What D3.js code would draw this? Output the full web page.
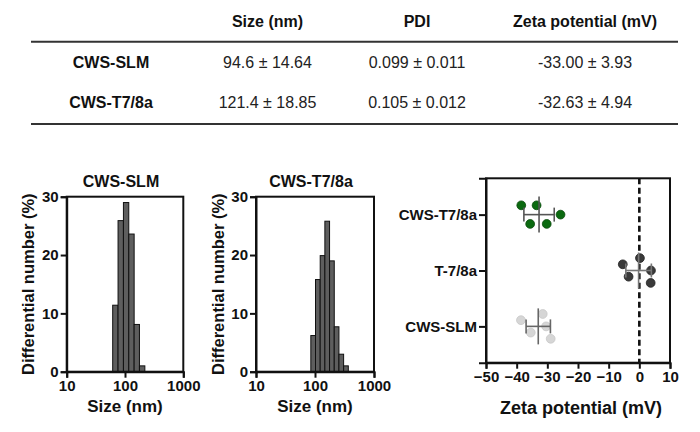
<!DOCTYPE html>
<html><head><meta charset="utf-8">
<script src="https://cdn.jsdelivr.net/npm/d3@7"></script>
<style>
html,body{margin:0;padding:0;background:#fff;}
svg{display:block;font-family:"Liberation Sans",Arial,sans-serif;}
</style></head>
<body><svg id="c" width="700" height="432"></svg>
<script>
// ---------- DATA ----------
const tableHeaders = ["Size (nm)", "PDI", "Zeta potential (mV)"];
const tableRows = ["CWS-SLM", "CWS-T7/8a"];
const tableSize = ["94.6 ± 14.64", "121.4 ± 18.85"];
const tablePDI = ["0.099 ± 0.011", "0.105 ± 0.012"];
const tableZeta = ["-33.00 ± 3.93", "-32.63 ± 4.94"];

// histogram bin edges (nm) and differential number (%)
const slmBinEdges = [61.5, 76, 94, 116, 143.5, 177, 219];
const slmValues = [11.4, 25.9, 29.0, 23.6, 8.1, 1.0];
const t78BinEdges = [85, 102, 122.5, 147, 176.5, 212, 254.5, 305.5, 367];
const t78Values = [6.2, 15.8, 19.9, 25.8, 19.0, 7.7, 3.0, 1.0];
const histTicksX = [10, 100, 1000];
const histTicksY = [0, 10, 20, 30];

// zeta potential replicates (mV)
const zetaCategories = ["CWS-T7/8a", "T-7/8a", "CWS-SLM"];
const zetaT78 = [-38.5, -33.5, -25.7, -35.6, -30.2];
const zetaT = [-5.4, 0.2, 3.8, -3.5, 3.7];
const zetaSLM = [-38.6, -31.5, -30.4, -35.4, -28.9];
// vertical spread lane of each replicate (in dot lanes)
const laneT78 = [-1.5, -1.5, 0, 1.5, 1.5];
const laneT = [-1, -2, 0, 1, 2];
const laneSLM = [-1, -2, 0, 1, 2];
const zetaTicks = [-50, -40, -30, -20, -10, 0, 10];

// ---------- DRAW ----------
const svg = d3.select("#c");
const F = '"Liberation Sans",Arial,sans-serif';

// Table
const colX = [267.5, 417, 585];
const rowY = [62, 102];
const tbl = svg.append("g");
tbl.selectAll("text.h").data(tableHeaders).join("text")
  .attr("x", (d,i)=>colX[i]).attr("y", 21.5).attr("text-anchor","middle")
  .attr("dominant-baseline","central").attr("font-weight","bold").attr("font-size",16)
  .attr("fill","#111").text(d=>d);
tbl.append("line").attr("x1",31).attr("x2",678).attr("y1",41.7).attr("y2",41.7).attr("stroke","#333").attr("stroke-width",2);
tbl.append("line").attr("x1",31).attr("x2",678).attr("y1",124).attr("y2",124).attr("stroke","#333").attr("stroke-width",2);
tableRows.forEach((r,i)=>{
  const cells = [tableSize[i], tablePDI[i], tableZeta[i]];
  tbl.append("text").attr("x",111).attr("y",rowY[i]).attr("text-anchor","middle")
    .attr("dominant-baseline","central").attr("font-weight","bold").attr("font-size",16).attr("fill","#111").text(r);
  cells.forEach((c,j)=>{
    tbl.append("text").attr("x",colX[j]).attr("y",rowY[i]).attr("text-anchor","middle")
      .attr("dominant-baseline","central").attr("font-size",16).attr("fill","#222").text(c);
  });
});

// Histograms
function histogram(left, right, title, edges, values){
  const top = 196.7, bottom = 371.7;
  const x = d3.scaleLog().domain([10,1000]).range([left,right]);
  const y = d3.scaleLinear().domain([0,30]).range([bottom,top]);
  const g = svg.append("g");
  const bins = values.map((v,i)=>({x0:edges[i], x1:edges[i+1], v}));
  g.selectAll("rect").data(bins).join("rect")
    .attr("x", d=>x(d.x0)).attr("width", d=>x(d.x1)-x(d.x0))
    .attr("y", d=>y(d.v)).attr("height", d=>y(0)-y(d.v))
    .attr("fill","#5e5e5e").attr("stroke","#111").attr("stroke-width",1);
  // frame
  g.append("rect").attr("x",left).attr("y",top).attr("width",right-left).attr("height",bottom-top)
    .attr("fill","none").attr("stroke","#111").attr("stroke-width",2);
  const ax = g.append("g").attr("transform",`translate(0,${bottom})`)
    .call(d3.axisBottom(x).tickValues(histTicksX).tickFormat(d3.format("d")).tickSize(6).tickPadding(3));
  const ay = g.append("g").attr("transform",`translate(${left},0)`)
    .call(d3.axisLeft(y).tickValues(histTicksY).tickSize(6).tickPadding(2));
  [ax,ay].forEach(a=>{
    a.select(".domain").attr("stroke","#111").attr("stroke-width",2);
    a.selectAll(".tick line").attr("stroke","#111").attr("stroke-width",2);
    a.selectAll(".tick text").attr("font-family",F).attr("font-weight","bold").attr("font-size",15).attr("fill","#111");
  });
  g.append("text").attr("x",(left+right)/2 - 4).attr("y",181.5).attr("text-anchor","middle")
    .attr("dominant-baseline","central").attr("font-weight","bold").attr("font-size",16).attr("fill","#111").text(title);
  g.append("text").attr("x",(left+right)/2).attr("y",406.5).attr("text-anchor","middle")
    .attr("dominant-baseline","central").attr("font-weight","bold").attr("font-size",17).attr("fill","#111").text("Size (nm)");
  g.append("text").attr("transform",`translate(${left-38.5},${(top+bottom)/2}) rotate(-90)`)
    .attr("text-anchor","middle").attr("dominant-baseline","central")
    .attr("font-weight","bold").attr("font-size",16.5).attr("fill","#111").text("Differential number (%)");
}
histogram(66.7, 183.3, "CWS-SLM", slmBinEdges, slmValues);
histogram(256, 374, "CWS-T7/8a", t78BinEdges, t78Values);

// Zeta potential plot
(function(){
  const left = 486, right = 670, top = 178.3, bottom = 362.7;
  const x = d3.scaleLinear().domain([-50,10]).range([left,right]);
  const y = d3.scalePoint().domain(zetaCategories).range([top,bottom]).padding(0.65);
  const laneStep = 6.2;
  const g = svg.append("g");
  const groups = [
    {cat:"CWS-T7/8a", vals:zetaT78, lanes:laneT78, fill:"#0b6a10", stroke:"#0a4a0d", bar:"#555"},
    {cat:"T-7/8a", vals:zetaT, lanes:laneT, fill:"#3a3a3a", stroke:"#222", bar:"#777"},
    {cat:"CWS-SLM", vals:zetaSLM, lanes:laneSLM, fill:"#d6d6d6", stroke:"#c8c8c8", bar:"#666"}
  ];
  // dashed zero line
  g.append("line").attr("x1",x(0)).attr("x2",x(0)).attr("y1",top).attr("y2",bottom)
    .attr("stroke","#111").attr("stroke-width",2.6).attr("stroke-dasharray","6,3.5");
  groups.forEach(gr=>{
    const cy = y(gr.cat);
    gr.vals.forEach((v,i)=>{
      g.append("circle").attr("cx",x(v)).attr("cy",cy + gr.lanes[i]*laneStep).attr("r",4.4)
        .attr("fill",gr.fill).attr("stroke",gr.stroke).attr("stroke-width",0.8);
    });
    const m = d3.mean(gr.vals), s = d3.deviation(gr.vals);
    const eb = g.append("g").attr("stroke",gr.bar).attr("stroke-width",1.6);
    eb.append("line").attr("x1",x(m-s)).attr("x2",x(m+s)).attr("y1",cy).attr("y2",cy);
    eb.append("line").attr("x1",x(m-s)).attr("x2",x(m-s)).attr("y1",cy-7).attr("y2",cy+7);
    eb.append("line").attr("x1",x(m+s)).attr("x2",x(m+s)).attr("y1",cy-7).attr("y2",cy+7);
    eb.append("line").attr("x1",x(m)).attr("x2",x(m)).attr("y1",cy-18).attr("y2",cy+18);
  });
  g.append("rect").attr("x",left).attr("y",top).attr("width",right-left).attr("height",bottom-top)
    .attr("fill","none").attr("stroke","#111").attr("stroke-width",2);
  const ax = g.append("g").attr("transform",`translate(0,${bottom})`)
    .call(d3.axisBottom(x).tickValues(zetaTicks).tickSize(6).tickPadding(3));
  const ay = g.append("g").attr("transform",`translate(${left},0)`)
    .call(d3.axisLeft(y).tickSize(7).tickPadding(2));
  [ax,ay].forEach(a=>{
    a.select(".domain").attr("stroke","#111").attr("stroke-width",2);
    a.selectAll(".tick line").attr("stroke","#111").attr("stroke-width",2);
    a.selectAll(".tick text").attr("font-family",F).attr("font-weight","bold").attr("font-size",15).attr("fill","#111");
  });
  g.append("text").attr("x",581).attr("y",408).attr("text-anchor","middle")
    .attr("dominant-baseline","central").attr("font-weight","bold").attr("font-size",18).attr("fill","#111")
    .text("Zeta potential (mV)");
})();
</script></body></html>
